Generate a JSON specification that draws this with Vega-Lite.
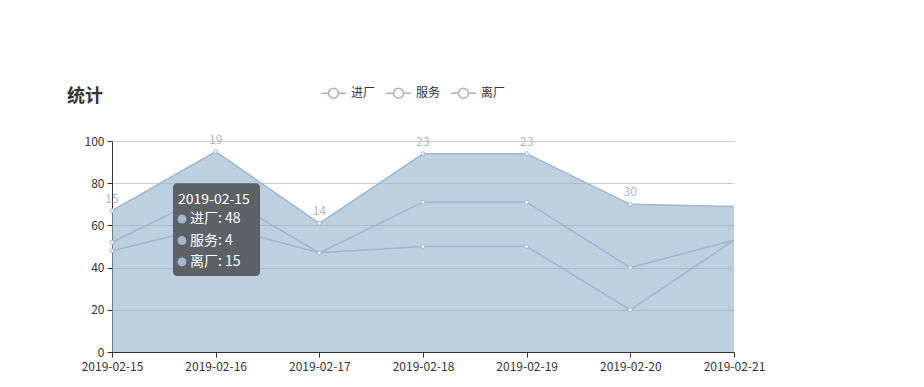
{
  "$schema": "https://vega.github.io/schema/vega-lite/v6.json",
  "width": 622,
  "height": 211,
  "autosize": {"type": "none"},
  "padding": {"left": 112, "top": 141, "right": 190, "bottom": 35},
  "background": "white",
  "config": {
    "font": "Noto Sans CJK SC",
    "view": {"stroke": null},
    "axis": {"labelFont": "Noto Sans CJK SC", "labelFontSize": 12, "labelColor": "#333", "domainColor": "#333", "tickColor": "#333", "tickSize": 5, "title": null},
    "legend": {"symbolFillColor": "white", "symbolStrokeWidth": 1.5}
  },
  "title": {"text": "统计", "anchor": "start", "frame": "group", "dx": -45, "offset": -26, "fontSize": 18, "fontWeight": "bold", "color": "#333", "font": "Noto Sans CJK SC"},
  "datasets": {
    "stats": [
      {"date": "2019-02-15T00:00:00", "series": "进厂", "rank": 1, "value": 48},
      {"date": "2019-02-15T00:00:00", "series": "服务", "rank": 2, "value": 4},
      {"date": "2019-02-15T00:00:00", "series": "离厂", "rank": 3, "value": 15},
      {"date": "2019-02-16T00:00:00", "series": "进厂", "rank": 1, "value": 60},
      {"date": "2019-02-16T00:00:00", "series": "服务", "rank": 2, "value": 16},
      {"date": "2019-02-16T00:00:00", "series": "离厂", "rank": 3, "value": 19},
      {"date": "2019-02-17T00:00:00", "series": "进厂", "rank": 1, "value": 47},
      {"date": "2019-02-17T00:00:00", "series": "服务", "rank": 2, "value": 0},
      {"date": "2019-02-17T00:00:00", "series": "离厂", "rank": 3, "value": 14},
      {"date": "2019-02-18T00:00:00", "series": "进厂", "rank": 1, "value": 50},
      {"date": "2019-02-18T00:00:00", "series": "服务", "rank": 2, "value": 21},
      {"date": "2019-02-18T00:00:00", "series": "离厂", "rank": 3, "value": 23},
      {"date": "2019-02-19T00:00:00", "series": "进厂", "rank": 1, "value": 50},
      {"date": "2019-02-19T00:00:00", "series": "服务", "rank": 2, "value": 21},
      {"date": "2019-02-19T00:00:00", "series": "离厂", "rank": 3, "value": 23},
      {"date": "2019-02-20T00:00:00", "series": "进厂", "rank": 1, "value": 20},
      {"date": "2019-02-20T00:00:00", "series": "服务", "rank": 2, "value": 20},
      {"date": "2019-02-20T00:00:00", "series": "离厂", "rank": 3, "value": 30},
      {"date": "2019-02-21T00:00:00", "series": "进厂", "rank": 1, "value": 53},
      {"date": "2019-02-21T00:00:00", "series": "服务", "rank": 2, "value": 0},
      {"date": "2019-02-21T00:00:00", "series": "离厂", "rank": 3, "value": 16}
    ]
  },
  "layer": [
    {
      "data": {"name": "stats"},
      "mark": {"type": "area", "opacity": 0.6, "color": "#91b0cc"},
      "encoding": {
        "x": {
          "field": "date", "type": "temporal",
          "scale": {"domain": [{"year": 2019, "month": 2, "date": 15}, {"year": 2019, "month": 2, "date": 21}], "nice": false, "padding": 0},
          "axis": {"values": [{"year": 2019, "month": 2, "date": 15}, {"year": 2019, "month": 2, "date": 16}, {"year": 2019, "month": 2, "date": 17}, {"year": 2019, "month": 2, "date": 18}, {"year": 2019, "month": 2, "date": 19}, {"year": 2019, "month": 2, "date": 20}, {"year": 2019, "month": 2, "date": 21}], "format": "%Y-%m-%d", "grid": false, "labelPadding": 4, "labelFlush": false, "labelOverlap": false}
        },
        "y": {"field": "value", "type": "quantitative", "stack": "zero", "scale": {"domain": [0, 100], "nice": false}, "axis": {"values": [0, 20, 40, 60, 80, 100], "gridColor": "#cccccc", "labelPadding": 3}},
        "order": {"field": "rank", "type": "quantitative"},
        "detail": {"field": "series"}
      }
    },
    {
      "data": {"name": "stats"},
      "mark": {"type": "line", "strokeWidth": 1.5},
      "encoding": {
        "x": {"field": "date", "type": "temporal"},
        "y": {"field": "value", "type": "quantitative", "stack": "zero"},
        "order": {"field": "rank", "type": "quantitative"},
        "stroke": {
          "field": "series", "type": "nominal",
          "scale": {"domain": ["进厂", "服务", "离厂"], "range": ["#a0b5c9", "#a0b5c9", "#a0b5c9"]},
          "legend": {
            "orient": "none", "legendX": 208, "legendY": -61.5, "direction": "horizontal", "title": null,
            "symbolType": "M-1,0L-0.4,0M0.4,0L1,0M0.4,0A0.4,0.4,0,1,1,-0.4,0A0.4,0.4,0,1,1,0.4,0",
            "symbolSize": 625, "symbolFillColor": "white", "symbolStrokeWidth": 1.5,
            "labelFontSize": 12, "labelColor": "#333", "labelOffset": 4, "columnPadding": 7,
            "labelFont": "Noto Sans CJK SC"
          }
        }
      }
    },
    {
      "data": {"name": "stats"},
      "transform": [{"filter": "date(datum.date) < 21"}],
      "mark": {"type": "point", "filled": true, "fill": "white", "stroke": "#a0b5c9", "strokeWidth": 1, "size": 14, "opacity": 1},
      "encoding": {
        "x": {"field": "date", "type": "temporal"},
        "y": {"field": "value", "type": "quantitative", "stack": "zero"},
        "order": {"field": "rank", "type": "quantitative"},
        "detail": {"field": "series"}
      }
    },
    {
      "data": {"name": "stats"},
      "transform": [
        {"joinaggregate": [{"op": "sum", "field": "value", "as": "total"}], "groupby": ["date"]},
        {"filter": "datum.series == '离厂' && date(datum.date) < 21"}
      ],
      "mark": {"type": "text", "dy": -12, "color": "#a9b9c9", "fontSize": 12, "font": "Noto Sans CJK SC"},
      "encoding": {
        "x": {"field": "date", "type": "temporal"},
        "y": {"field": "total", "type": "quantitative"},
        "text": {"field": "value", "type": "quantitative"}
      }
    },
    {
      "data": {"values": [{}]},
      "mark": {"type": "rect", "fill": "#5c6166", "cornerRadius": 4},
      "encoding": {
        "x": {"datum": {"year": 2019, "month": 2, "date": 15, "hours": 14, "minutes": 7}},
        "x2": {"datum": {"year": 2019, "month": 2, "date": 16, "hours": 10, "minutes": 16}},
        "y": {"datum": 80},
        "y2": {"datum": 36}
      }
    },
    {
      "data": {"values": [{}]},
      "mark": {"type": "text", "text": "2019-02-15", "align": "left", "baseline": "middle", "dx": 5, "color": "white", "fontSize": 14, "font": "Noto Sans CJK SC"},
      "encoding": {
        "x": {"datum": {"year": 2019, "month": 2, "date": 15, "hours": 14, "minutes": 7}},
        "y": {"datum": 72}
      }
    },
    {
      "data": {"values": [{}]},
      "mark": {"type": "text", "text": ["进厂: 48", "服务: 4", "离厂: 15"], "lineHeight": 21.5, "align": "left", "baseline": "middle", "dx": 17, "color": "white", "fontSize": 14, "font": "Noto Sans CJK SC"},
      "encoding": {
        "x": {"datum": {"year": 2019, "month": 2, "date": 15, "hours": 14, "minutes": 7}},
        "y": {"datum": 63}
      }
    },
    {
      "data": {"values": [{}]},
      "mark": {"type": "point", "filled": true, "color": "#a3b8cc", "size": 80, "opacity": 1},
      "encoding": {
        "x": {"datum": {"year": 2019, "month": 2, "date": 15, "hours": 16, "minutes": 12}},
        "y": {"datum": 63}
      }
    },
    {
      "data": {"values": [{}]},
      "mark": {"type": "point", "filled": true, "color": "#a3b8cc", "size": 80, "opacity": 1},
      "encoding": {
        "x": {"datum": {"year": 2019, "month": 2, "date": 15, "hours": 16, "minutes": 12}},
        "y": {"datum": 52.8}
      }
    },
    {
      "data": {"values": [{}]},
      "mark": {"type": "point", "filled": true, "color": "#a3b8cc", "size": 80, "opacity": 1},
      "encoding": {
        "x": {"datum": {"year": 2019, "month": 2, "date": 15, "hours": 16, "minutes": 12}},
        "y": {"datum": 42.7}
      }
    }
  ]
}
